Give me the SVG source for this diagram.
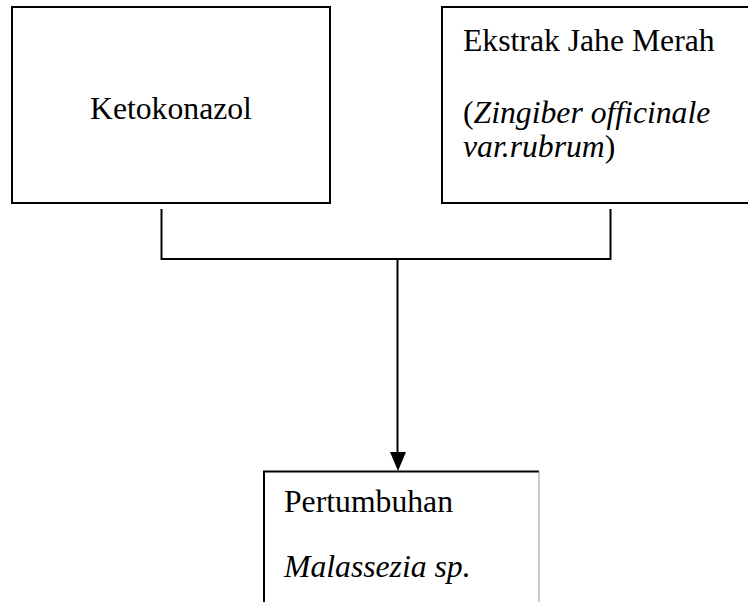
<svg xmlns="http://www.w3.org/2000/svg" width="748" height="602" viewBox="0 0 748 602">
<style>
.box{fill:#fff;stroke:#000;stroke-width:2}
.t{font-family:"Liberation Serif","Times New Roman",serif;font-size:31.7px;fill:#000}
.i{font-style:italic}
.ln{fill:none;stroke:#000;stroke-width:2}
</style>
<rect width="748" height="602" fill="#fff"/>
<g id="ketokonazol">
<rect class="box" x="12" y="7" width="318" height="196"/>
<text class="t" x="90" y="118.5">Ketokonazol</text>
</g>
<g id="jahe">
<rect class="box" x="442" y="7" width="320" height="196"/>
<text class="t" x="463" y="51">Ekstrak Jahe Merah</text>
<text class="t" x="463" y="123">(<tspan class="i">Zingiber officinale</tspan></text>
<text class="t i" x="463" y="157">var.rubrum<tspan font-style="normal">)</tspan></text>
</g>
<g id="pertumbuhan">
<path d="M264 610V471.5H539" fill="none" stroke="#000" stroke-width="2"/>
<path d="M539 471.5V610" fill="none" stroke="#999" stroke-width="1"/>
<text class="t" x="284" y="512">Pertumbuhan</text>
<text class="t i" x="284" y="576.5">Malassezia sp.</text>
</g>
<g id="connectors">
<path class="ln" d="M161.5 209V259H610.5V209"/>
<path class="ln" d="M397.5 259V454"/>
<polygon points="390,452 406,452 398,471" fill="#000"/>
</g>
</svg>
